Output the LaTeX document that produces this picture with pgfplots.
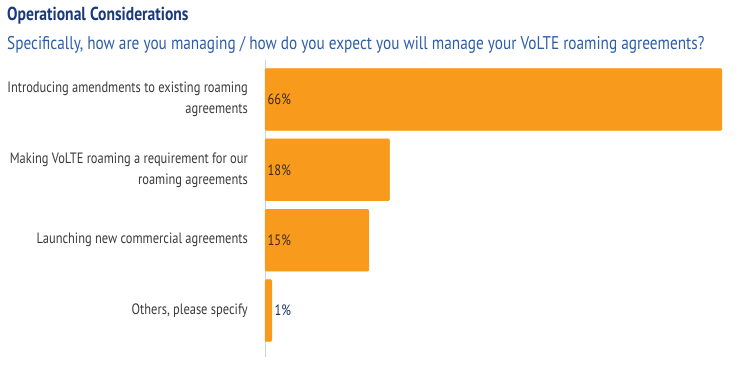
\documentclass[border=0pt]{standalone}
\usepackage{fontspec}
\setmainfont{PT Sans}[FakeStretch=0.83]
\usepackage{pgfplots}
\pgfplotsset{compat=1.18}
\definecolor{barorange}{HTML}{F89A1C}
\definecolor{titlenavy}{HTML}{1B3A7C}
\definecolor{subblue}{HTML}{2D5DA6}
\definecolor{labelgray}{HTML}{3A3A3A}
\definecolor{axisgray}{HTML}{C9D1E0}
\definecolor{valdark}{HTML}{3A2A14}
\begin{document}
\begin{tikzpicture}
\path[use as bounding box] (0,0) rectangle (750bp,368bp);
\node[anchor=base west, inner sep=0pt, text=titlenavy, font=\fontsize{18.8bp}{20bp}\selectfont\bfseries] at (7bp,347bp) {Operational Considerations};
\node[anchor=base west, inner sep=0pt, text=subblue, font=\fontsize{18.4bp}{20bp}\selectfont] at (7bp,318bp) {Specifically, how are you managing / how do you expect you will manage your VoLTE roaming agreements?};
\begin{axis}[
  at={(265bp,11bp)}, anchor=south west,
  scale only axis, width=457bp, height=297bp,
  xmin=0, xmax=66, ymin=-0.56, ymax=3.66,
  y dir=reverse,
  axis x line=none, axis y line*=left,
  y axis line style={draw=axisgray, line width=0.8pt, -},
  ytick={0,1,2,3},
  yticklabels={{Introducing amendments to existing roaming\\agreements},{Making VoLTE roaming a requirement for our\\roaming agreements},{Launching new commercial agreements},{Others, please specify}},
  major tick length=0pt,
  yticklabel style={align=right, text=labelgray, font=\fontsize{15bp}{21bp}\selectfont, inner xsep=0pt, xshift=-17bp},
  clip=false,
]
\addplot[xbar, bar width=0.88, fill=barorange, draw=barorange, rounded corners=1.2pt] coordinates {(66,0) (18,1) (15,2) (1,3)};
\addplot[only marks, mark=none, nodes near coords, point meta=explicit symbolic,
  nodes near coords style={anchor=west, text=valdark, font=\fontsize{15bp}{16bp}\selectfont, inner xsep=2.5bp}]
  coordinates {(0,0) [66\%] (0,1) [18\%] (0,2) [15\%]};
\addplot[only marks, mark=none, nodes near coords, point meta=explicit symbolic,
  nodes near coords style={anchor=west, text=titlenavy!80!black, font=\fontsize{15bp}{16bp}\selectfont, inner xsep=2.5bp}]
  coordinates {(1,3) [1\%]};
\end{axis}
\end{tikzpicture}
\end{document}
